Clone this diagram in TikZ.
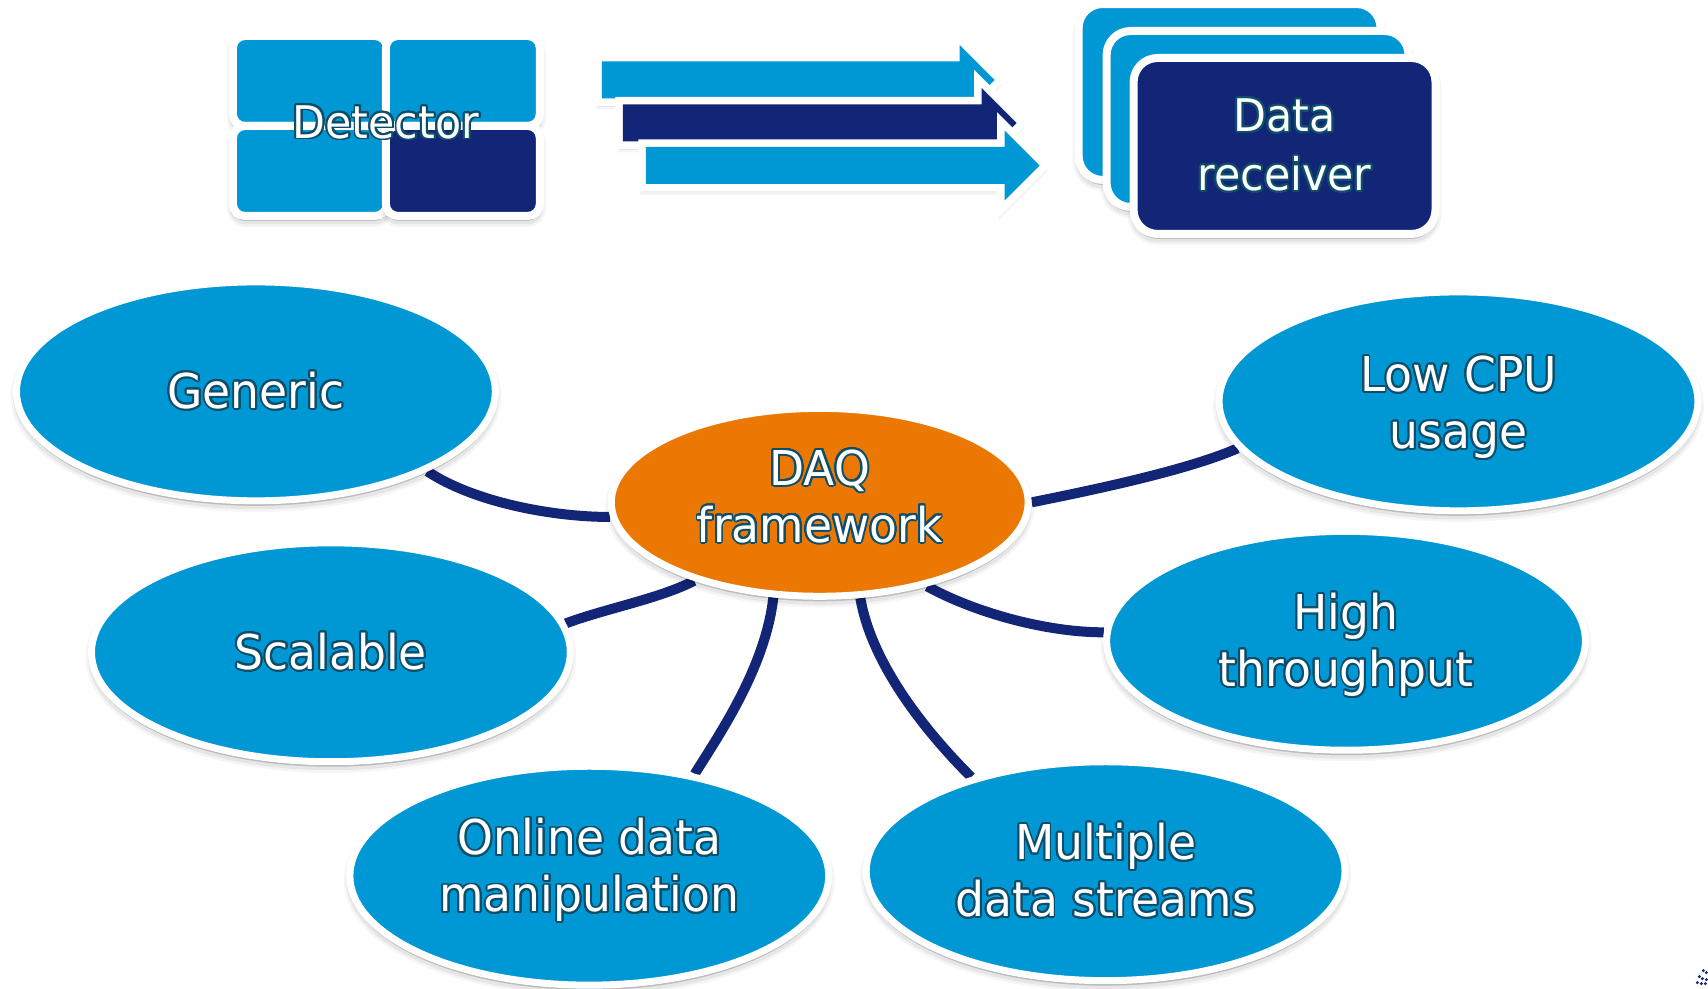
\documentclass[tikz,border=0pt]{standalone}
\usepackage{fontspec}
\setmainfont{DejaVu Sans}[FakeStretch=0.95]
\usepackage{contour}
\contourlength{1.9pt}
\contournumber{24}
\usetikzlibrary{shapes.geometric}

\definecolor{skyb}{RGB}{0,152,212}
\definecolor{navyb}{RGB}{19,37,118}
\definecolor{orng}{RGB}{236,120,4}
\definecolor{rimc}{RGB}{12,78,106}

% outlined white lettering
\newcommand{\olt}[1]{\contour{rimc}{#1}}
% invisible struts that balance two-line labels vertically
\newcommand{\tall}[1]{\rule{0pt}{#1}}
\newcommand{\deep}[1]{\rule[-#1]{0pt}{#1}}

% block arrow: tail x, head base x, centre y
\newcommand{\flowpath}[3]{({#1},{#3-18.5}) -- ({#2},{#3-18.5}) -- ({#2},{#3-35}) -- ({#2+35},{#3}) -- ({#2},{#3+35}) -- ({#2},{#3+18.5}) -- ({#1},{#3+18.5}) -- cycle}
\newcommand{\flowarrow}[4]{%
  \path[softshade, draw=white, line width=15pt, line join=miter] \flowpath{#1}{#2}{#3};
  \fill[#4] \flowpath{#1}{#2}{#3};
}

\pgfdeclarelayer{back}
\pgfsetlayers{back,main}

\tikzset{
  softshade/.style={
    preaction={draw=black, fill=black, line width=12pt, opacity=0.04, transform canvas={yshift=-5pt}},
    preaction={draw=black, fill=black, line width=7pt, opacity=0.06, transform canvas={yshift=-5pt}},
    preaction={draw=black, fill=black, line width=2pt, opacity=0.08, transform canvas={yshift=-4pt}}},
  topic/.style={ellipse, draw=white, line width=7pt, fill=skyb, inner sep=0pt,
    minimum width=479pt, minimum height=219pt, text=white,
    font=\fontsize{48}{57}\selectfont, align=center, softshade},
  hub/.style={topic, fill=orng, minimum width=417pt, minimum height=188pt},
  link/.style={draw=navyb, line width=10pt},
  tile/.style={rectangle, rounded corners=12pt, draw=white, line width=8pt,
    minimum width=154pt, minimum height=90pt, inner sep=0pt, softshade},
  card/.style={rectangle, rounded corners=24pt, draw=white, line width=8pt,
    minimum width=302pt, minimum height=176pt, inner sep=0pt, softshade},
  label/.style={text=white, align=center, inner sep=0pt}
}

\begin{document}
\begin{tikzpicture}[x=1pt, y=-1pt]
\begin{pgfonlayer}{back}
\path[use as bounding box, fill=white] (0,0) rectangle (1708,986);
\end{pgfonlayer}

% detector made of four tiles
\node[tile, fill=skyb] (t1) at (310,81) {};
\node[tile, fill=skyb] (t2) at (463,81) {};
\node[tile, fill=skyb] (t3) at (310,171) {};
\node[tile, fill=navyb] (t4) at (463,171) {};
\node[label, font=\fontsize{45}{52}\selectfont] (det) at (386,123) {\olt{Detector}};

% three data streams
\flowarrow{602}{960}{80}{skyb}
\flowarrow{623}{982}{123}{navyb}
\flowarrow{646}{1005}{165.5}{skyb}

% stacked receivers
\node[card, fill=skyb] (r1) at (1230,92) {};
\node[card, fill=skyb] (r2) at (1258,119) {};
\node[card, fill=navyb, text=white, align=center, font=\fontsize{45}{59}\selectfont] (r3) at (1285,146) {\olt{Data}\\\olt{receiver}};

% mind map
\node[hub] (daq) at (820,502.5) {\olt{DAQ}\\\olt{framework}\deep{13pt}};
\node[topic] (gen) at (256,391.5) {\olt{Generic}};
\node[topic] (cpu) at (1459,401.5) {\tall{49pt}\olt{Low CPU}\\\olt{usage}};
\node[topic] (scl) at (331,652.5) {\olt{Scalable}};
\node[topic] (thr) at (1346.5,641) {\tall{46pt}\olt{High}\\\olt{throughput}};
\node[topic] (onl) at (589.5,876) {\olt{Online data}\\\olt{manipulation}\deep{21pt}};
\node[topic] (mul) at (1106,871.5) {\olt{Multiple}\\\olt{data streams}};

\begin{pgfonlayer}{back}
\draw[link] (gen.-25) .. controls +(45,30) and +(-60,0) .. (daq.184);
\draw[link] (scl.7) .. controls +(40,-15) and +(-35,18) .. (daq.212);
\draw[link] (daq.244) .. controls +(-8,70) and +(25,-40) .. (onl.44);
\draw[link] (daq.293) .. controls +(12,70) and +(-40,-40) .. (mul.145);
\draw[link] (daq.322) .. controls +(45,25) and +(-60,0) .. (thr.178);
\draw[link] (daq.0) .. controls +(60,-12) and +(-50,22) .. (cpu.192);
\end{pgfonlayer}

% logo fragment in the corner
\foreach \p in {(1704,971),(1707,973),(1700,977),(1703,979),(1707,980),(1698,983),(1702,984),(1706,984)}
  \fill[navyb] \p circle (1.6);
\end{tikzpicture}
\end{document}
